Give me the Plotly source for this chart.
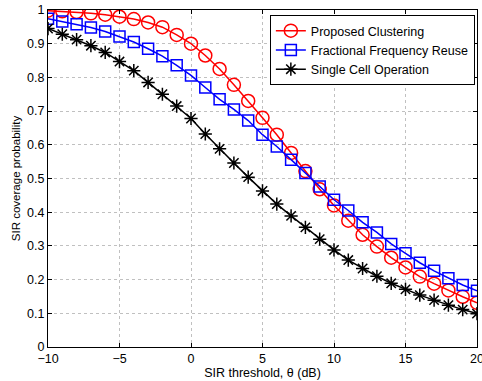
import plotly.graph_objects as go

theta = list(range(-10, 21))
proposed = [0.998, 0.996, 0.994, 0.99, 0.986, 0.98, 0.973, 0.963, 0.949, 0.926, 0.90,
            0.865, 0.825, 0.778, 0.73, 0.68, 0.63, 0.576, 0.522, 0.468, 0.42,
            0.375, 0.333, 0.298, 0.265, 0.236, 0.209, 0.188, 0.168, 0.149, 0.131]
ffr = [0.974, 0.966, 0.958, 0.948, 0.936, 0.921, 0.905, 0.885, 0.863, 0.836, 0.806,
       0.77, 0.735, 0.705, 0.672, 0.63, 0.595, 0.556, 0.516, 0.476, 0.437,
       0.405, 0.37, 0.34, 0.306, 0.278, 0.25, 0.226, 0.204, 0.184, 0.167]
single = [0.945, 0.928, 0.912, 0.894, 0.874, 0.847, 0.82, 0.785, 0.75, 0.715, 0.678,
          0.632, 0.588, 0.546, 0.504, 0.463, 0.424, 0.389, 0.355, 0.32, 0.288,
          0.258, 0.233, 0.21, 0.189, 0.171, 0.154, 0.139, 0.124, 0.111, 0.099]
names = ["Proposed Clustering", "Fractional Frequency Reuse", "Single Cell Operation"]
x_ticks = [-10, -5, 0, 5, 10, 15, 20]
y_ticks = [0, 0.1, 0.2, 0.3, 0.4, 0.5, 0.6, 0.7, 0.8, 0.9, 1]

FONT = "Liberation Sans, Arial"

fig = go.Figure()
fig.add_trace(go.Scatter(x=theta, y=proposed, name=names[0], mode="lines+markers",
                         line=dict(color="#ff0000", width=1.5),
                         marker=dict(symbol="circle-open", size=13, color="#ff0000",
                                     line=dict(width=1.5, color="#ff0000"))))
fig.add_trace(go.Scatter(x=theta, y=ffr, name=names[1], mode="lines+markers",
                         line=dict(color="#0000ff", width=1.5),
                         marker=dict(symbol="square-open", size=11, color="#0000ff",
                                     line=dict(width=1.5, color="#0000ff"))))
fig.add_trace(go.Scatter(x=theta, y=single, name=names[2], mode="lines+markers",
                         line=dict(color="#000000", width=1.5),
                         marker=dict(symbol="asterisk-open", size=11, color="#000000",
                                     line=dict(width=1.5, color="#000000"))))

axis_common = dict(showline=True, linecolor="black", linewidth=1, mirror="allticks",
                   ticks="inside", ticklen=4, tickcolor="black", automargin=False,
                   ticklabeloverflow="allow",
                   showgrid=True, gridcolor="#c0c0c0", griddash="dot", gridwidth=1,
                   zeroline=False, tickfont=dict(family=FONT, size=12.5, color="black"))

fig.update_xaxes(range=[-10, 20], tickvals=x_ticks,
                 ticktext=[str(v).replace("-", "\u2212") for v in x_ticks],
                 title=dict(text="SIR threshold, \u03b8 (dB)", standoff=2,
                            font=dict(family=FONT, size=12.5, color="black")),
                 **axis_common)
fig.update_yaxes(range=[0, 1], tickvals=y_ticks, ticktext=[("%g" % v) for v in y_ticks],
                 title=dict(text="SIR coverage probability", standoff=4,
                            font=dict(family=FONT, size=11.5, color="black")),
                 **axis_common)

fig.update_layout(width=482, height=381, margin=dict(l=48, r=5, t=10, b=34),
                  paper_bgcolor="white", plot_bgcolor="white",
                  font=dict(family=FONT, size=12.5, color="black"),
                  legend=dict(x=0.995, y=0.985, xanchor="right", yanchor="top",
                              bgcolor="white", bordercolor="black", borderwidth=1,
                              font=dict(family=FONT, size=12.5), tracegroupgap=0, itemwidth=30))

fig.write_html("out.html", config={"displayModeBar": False},
               post_script="document.body.style.margin='0';document.body.style.overflow='hidden';")
